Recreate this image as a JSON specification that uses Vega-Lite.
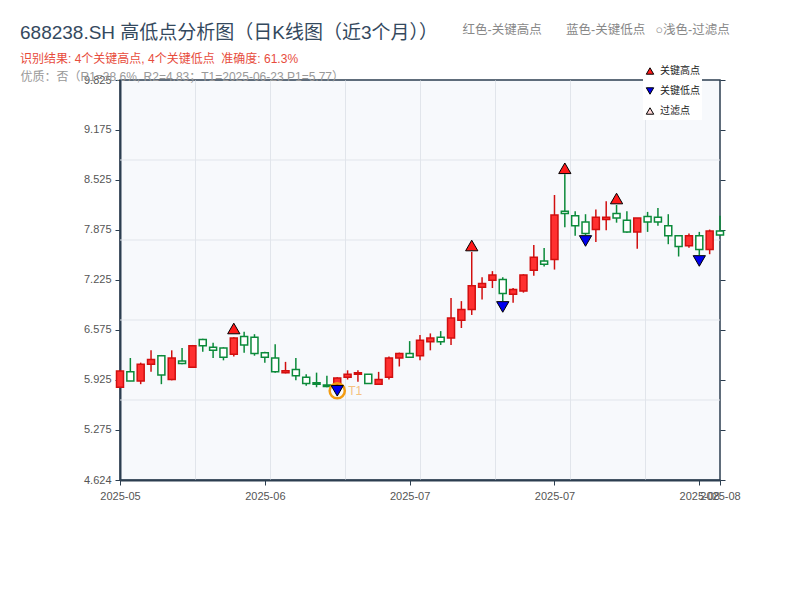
{
  "$schema": "https://vega.github.io/schema/vega-lite/v6.json",
  "width": 600,
  "height": 400,
  "autosize": {"type": "none"},
  "padding": {"left": 120, "top": 80, "right": 80, "bottom": 120},
  "background": "white",
  "title": {
    "text": "688238.SH 高低点分析图（日K线图（近3个月））",
    "subtitle": "识别结果: 4个关键高点, 4个关键低点\u00a0\u00a0准确度: 61.3%",
    "anchor": "start",
    "frame": "group",
    "dx": -100,
    "offset": -42,
    "fontSize": 19,
    "fontWeight": "normal",
    "color": "#34495e",
    "subtitleColor": "#e74c3c",
    "subtitleFontSize": 12,
    "subtitlePadding": 11
  },
  "datasets": {
    "candles": [
      {"date": "2025-05-22", "open": 5.83, "high": 6.05, "low": 5.82, "close": 6.04},
      {"date": "2025-05-23", "open": 6.03, "high": 6.21, "low": 5.91, "close": 5.91},
      {"date": "2025-05-26", "open": 5.91, "high": 6.15, "low": 5.87, "close": 6.13},
      {"date": "2025-05-27", "open": 6.13, "high": 6.31, "low": 6.03, "close": 6.19},
      {"date": "2025-05-28", "open": 6.24, "high": 6.25, "low": 5.87, "close": 5.99},
      {"date": "2025-05-29", "open": 5.93, "high": 6.31, "low": 5.92, "close": 6.21},
      {"date": "2025-05-30", "open": 6.17, "high": 6.34, "low": 6.13, "close": 6.14},
      {"date": "2025-06-03", "open": 6.09, "high": 6.38, "low": 6.08, "close": 6.37},
      {"date": "2025-06-04", "open": 6.45, "high": 6.46, "low": 6.29, "close": 6.37},
      {"date": "2025-06-05", "open": 6.35, "high": 6.41, "low": 6.21, "close": 6.31},
      {"date": "2025-06-06", "open": 6.34, "high": 6.35, "low": 6.18, "close": 6.22},
      {"date": "2025-06-09", "open": 6.26, "high": 6.48, "low": 6.23, "close": 6.47},
      {"date": "2025-06-10", "open": 6.49, "high": 6.55, "low": 6.28, "close": 6.38},
      {"date": "2025-06-11", "open": 6.48, "high": 6.52, "low": 6.24, "close": 6.27},
      {"date": "2025-06-12", "open": 6.28, "high": 6.29, "low": 6.15, "close": 6.22},
      {"date": "2025-06-13", "open": 6.21, "high": 6.39, "low": 6.02, "close": 6.03},
      {"date": "2025-06-16", "open": 6.02, "high": 6.16, "low": 6.01, "close": 6.045},
      {"date": "2025-06-17", "open": 6.06, "high": 6.21, "low": 5.92, "close": 5.98},
      {"date": "2025-06-18", "open": 5.96, "high": 6.0, "low": 5.85, "close": 5.88},
      {"date": "2025-06-19", "open": 5.89, "high": 6.02, "low": 5.83, "close": 5.87},
      {"date": "2025-06-20", "open": 5.86, "high": 5.98, "low": 5.83, "close": 5.84},
      {"date": "2025-06-23", "open": 5.86, "high": 5.96, "low": 5.77, "close": 5.95},
      {"date": "2025-06-24", "open": 5.96, "high": 6.05, "low": 5.93, "close": 6.0},
      {"date": "2025-06-25", "open": 6.0, "high": 6.05, "low": 5.9, "close": 6.02},
      {"date": "2025-06-26", "open": 6.0, "high": 6.0, "low": 5.88, "close": 5.88},
      {"date": "2025-06-27", "open": 5.87, "high": 6.03, "low": 5.87, "close": 5.93},
      {"date": "2025-06-30", "open": 5.96, "high": 6.23, "low": 5.93, "close": 6.21},
      {"date": "2025-07-01", "open": 6.21, "high": 6.28, "low": 6.1, "close": 6.27},
      {"date": "2025-07-02", "open": 6.27, "high": 6.43, "low": 6.21, "close": 6.22},
      {"date": "2025-07-03", "open": 6.24, "high": 6.51, "low": 6.18, "close": 6.44},
      {"date": "2025-07-04", "open": 6.42, "high": 6.53, "low": 6.31, "close": 6.47},
      {"date": "2025-07-07", "open": 6.48, "high": 6.56, "low": 6.38, "close": 6.42},
      {"date": "2025-07-08", "open": 6.47, "high": 6.99, "low": 6.38, "close": 6.73},
      {"date": "2025-07-09", "open": 6.7, "high": 6.95, "low": 6.6, "close": 6.84},
      {"date": "2025-07-10", "open": 6.84, "high": 7.59, "low": 6.77, "close": 7.15},
      {"date": "2025-07-11", "open": 7.13, "high": 7.26, "low": 6.97, "close": 7.18},
      {"date": "2025-07-14", "open": 7.22, "high": 7.34, "low": 7.12, "close": 7.29},
      {"date": "2025-07-15", "open": 7.23, "high": 7.26, "low": 6.95, "close": 7.05},
      {"date": "2025-07-16", "open": 7.04, "high": 7.12, "low": 6.93, "close": 7.1},
      {"date": "2025-07-17", "open": 7.08, "high": 7.3, "low": 7.06, "close": 7.29},
      {"date": "2025-07-18", "open": 7.35, "high": 7.68, "low": 7.28, "close": 7.52},
      {"date": "2025-07-21", "open": 7.47, "high": 7.64, "low": 7.4, "close": 7.43},
      {"date": "2025-07-22", "open": 7.49, "high": 8.33, "low": 7.36, "close": 8.07},
      {"date": "2025-07-23", "open": 8.12, "high": 8.6, "low": 7.91, "close": 8.09},
      {"date": "2025-07-24", "open": 8.06, "high": 8.12, "low": 7.8, "close": 7.93},
      {"date": "2025-07-25", "open": 7.98, "high": 8.08, "low": 7.81, "close": 7.83},
      {"date": "2025-07-28", "open": 7.88, "high": 8.14, "low": 7.72, "close": 8.04},
      {"date": "2025-07-29", "open": 8.01, "high": 8.25, "low": 7.87, "close": 8.04},
      {"date": "2025-07-30", "open": 8.09, "high": 8.2, "low": 7.97, "close": 8.03},
      {"date": "2025-07-31", "open": 8.0, "high": 8.12, "low": 7.84, "close": 7.85},
      {"date": "2025-08-01", "open": 7.85, "high": 8.03, "low": 7.63, "close": 8.03},
      {"date": "2025-08-04", "open": 8.05, "high": 8.11, "low": 7.85, "close": 7.98},
      {"date": "2025-08-05", "open": 8.04, "high": 8.16, "low": 7.93, "close": 7.98},
      {"date": "2025-08-06", "open": 7.93, "high": 8.08, "low": 7.69, "close": 7.8},
      {"date": "2025-08-07", "open": 7.8, "high": 7.8, "low": 7.53, "close": 7.66},
      {"date": "2025-08-08", "open": 7.67, "high": 7.83, "low": 7.645, "close": 7.8},
      {"date": "2025-08-11", "open": 7.8, "high": 7.85, "low": 7.55, "close": 7.62},
      {"date": "2025-08-12", "open": 7.62, "high": 7.88, "low": 7.56, "close": 7.86},
      {"date": "2025-08-13", "open": 7.86, "high": 8.06, "low": 7.8, "close": 7.81}
    ],
    "keypts": [
      {"date": "2025-06-09", "kind": "关键高点", "price": 6.594},
      {"date": "2025-07-10", "kind": "关键高点", "price": 7.673},
      {"date": "2025-07-23", "kind": "关键高点", "price": 8.677},
      {"date": "2025-07-30", "kind": "关键高点", "price": 8.284},
      {"date": "2025-06-23", "kind": "关键低点", "price": 5.784},
      {"date": "2025-07-15", "kind": "关键低点", "price": 6.874},
      {"date": "2025-07-25", "kind": "关键低点", "price": 7.732},
      {"date": "2025-08-11", "kind": "关键低点", "price": 7.472}
    ],
    "t1": [
      {"date": "2025-06-23", "label": "T1", "price": 5.784}
    ]
  },
  "resolve": {"scale": {"x": "independent"}, "axis": {"y": "independent"}},
  "layer": [
    {
      "data": {"values": [{}]},
      "mark": {"type": "rule", "strokeOpacity": 0},
      "encoding": {
        "x": {
          "datum": 0,
          "type": "quantitative",
          "scale": {"domain": [0, 8], "nice": false, "zero": false},
          "axis": {
            "orient": "top",
            "values": [1, 2, 3, 4, 5, 6, 7],
            "grid": true,
            "gridColor": "#e1e5eb",
            "gridWidth": 1,
            "labels": false,
            "ticks": false,
            "domain": false,
            "title": null
          }
        }
      }
    },
    {
      "data": {"values": [{}]},
      "mark": {"type": "rule", "color": "#e1e5eb", "strokeWidth": 1},
      "encoding": {
        "y": {
          "datum": 5.6642,
          "type": "quantitative",
          "scale": {"domain": [4.624, 9.825], "nice": false, "zero": false},
          "axis": {
            "orient": "left",
            "values": [4.624, 5.275, 5.925, 6.575, 7.225, 7.875, 8.525, 9.175, 9.825],
            "format": ".3f",
            "grid": false,
            "tickSize": 5,
            "tickColor": "#2c3e50",
            "labelPadding": 4,
            "labelFontSize": 11,
            "labelColor": "#555",
            "domainColor": "#2c3e50",
            "domainWidth": 2,
            "title": "优质：否（R1=38.6%, R2=4.83；T1=2025-06-23 P1=5.77）",
            "titleAngle": 0,
            "titleX": -100,
            "titleY": 0,
            "titleAlign": "left",
            "titleBaseline": "alphabetic",
            "titleFontSize": 12,
            "titleFontWeight": "normal",
            "titleColor": "#999"
          }
        }
      }
    },
    {
      "data": {"values": [{}]},
      "mark": {"type": "rule", "color": "#e1e5eb", "strokeWidth": 1},
      "encoding": {
        "y": {
          "datum": 6.7044,
          "type": "quantitative",
          "scale": {"domain": [4.624, 9.825], "nice": false, "zero": false},
          "axis": {
            "orient": "right",
            "values": [4.624, 5.275, 5.925, 6.575, 7.225, 7.875, 8.525, 9.175, 9.825],
            "labels": false,
            "ticks": true,
            "tickSize": 5,
            "tickColor": "#2c3e50",
            "domain": false,
            "grid": false,
            "title": null
          }
        }
      }
    },
    {
      "data": {"values": [{}]},
      "mark": {"type": "rule", "color": "#e1e5eb", "strokeWidth": 1},
      "encoding": {
        "y": {"datum": 7.7446, "type": "quantitative", "scale": {"domain": [4.624, 9.825], "nice": false, "zero": false}, "axis": null}
      }
    },
    {
      "data": {"values": [{}]},
      "mark": {"type": "rule", "color": "#e1e5eb", "strokeWidth": 1},
      "encoding": {
        "y": {"datum": 8.7848, "type": "quantitative", "scale": {"domain": [4.624, 9.825], "nice": false, "zero": false}, "axis": null}
      }
    },
    {
      "encoding": {
        "x": {
          "field": "date",
          "type": "ordinal",
          "scale": {"type": "point", "padding": 0},
          "axis": {
            "values": ["2025-05-22", "2025-06-12", "2025-07-02", "2025-07-22", "2025-08-11", "2025-08-13"],
            "labelExpr": "slice(datum.value, 0, 7)",
            "labelAngle": 0,
            "labelOverlap": false,
            "labelBound": false,
            "labelFontSize": 11,
            "labelColor": "#555",
            "labelPadding": 5,
            "tickSize": 5,
            "tickColor": "#2c3e50",
            "domainColor": "#2c3e50",
            "domainWidth": 2,
            "grid": false,
            "title": "红色-关键高点\u00a0\u00a0\u00a0\u00a0\u00a0\u00a0\u00a0蓝色-关键低点\u00a0\u00a0\u00a0○浅色-过滤点",
            "titleX": 342,
            "titleY": -447,
            "titleAlign": "left",
            "titleAnchor": "start",
            "titleBaseline": "alphabetic",
            "titleFontSize": 12.5,
            "titleFontWeight": "normal",
            "titleColor": "#888"
          }
        }
      },
      "layer": [
        {
          "data": {"name": "candles"},
          "mark": {"type": "rule", "strokeWidth": 1.5},
          "encoding": {
            "y": {"field": "low", "type": "quantitative", "scale": {"domain": [4.624, 9.825], "nice": false, "zero": false}, "axis": null},
            "y2": {"field": "high"},
            "color": {"condition": {"test": "datum.close >= datum.open", "value": "#d10f0f"}, "value": "#0b8a3a"}
          }
        },
        {
          "data": {"name": "candles"},
          "mark": {"type": "bar", "size": 7, "strokeWidth": 1.5},
          "encoding": {
            "y": {"field": "open", "type": "quantitative", "scale": {"domain": [4.624, 9.825], "nice": false, "zero": false}, "axis": null},
            "y2": {"field": "close"},
            "fill": {"condition": {"test": "datum.close >= datum.open", "value": "#ff3030"}, "value": "#ffffff"},
            "stroke": {"condition": {"test": "datum.close >= datum.open", "value": "#d10f0f"}, "value": "#0b8a3a"}
          }
        },
        {
          "data": {"name": "t1"},
          "mark": {"type": "point", "shape": "circle", "filled": false, "stroke": "#f39c12", "strokeWidth": 2.5, "size": 230, "opacity": 1},
          "encoding": {
            "y": {"field": "price", "type": "quantitative", "scale": {"domain": [4.624, 9.825], "nice": false, "zero": false}, "axis": null}
          }
        },
        {
          "data": {"name": "keypts"},
          "mark": {"type": "point", "filled": true, "stroke": "black", "strokeWidth": 1, "opacity": 1, "size": 150},
          "encoding": {
            "y": {"field": "price", "type": "quantitative", "scale": {"domain": [4.624, 9.825], "nice": false, "zero": false}, "axis": null},
            "shape": {
              "field": "kind",
              "type": "nominal",
              "scale": {"domain": ["关键高点", "关键低点", "过滤点"], "range": ["triangle-up", "triangle-down", "triangle-up"]},
              "legend": {"title": null, "orient": "none", "legendX": 523, "legendY": -18, "labelFontSize": 10, "labelColor": "#222", "symbolSize": 55, "symbolStrokeColor": "black", "symbolStrokeWidth": 1, "clipHeight": 14, "rowPadding": 6, "labelOffset": 5, "padding": 2, "fillColor": "white"}
            },
            "color": {
              "field": "kind",
              "type": "nominal",
              "scale": {"domain": ["关键高点", "关键低点", "过滤点"], "range": ["#ff1a1a", "#0000ee", "#ffd6d6"]},
              "legend": {"title": null, "orient": "none", "legendX": 523, "legendY": -18, "labelFontSize": 10, "labelColor": "#222", "symbolSize": 55, "symbolStrokeColor": "black", "symbolStrokeWidth": 1, "clipHeight": 14, "rowPadding": 6, "labelOffset": 5, "padding": 2, "fillColor": "white"}
            }
          }
        },
        {
          "data": {"name": "t1"},
          "mark": {"type": "text", "align": "left", "baseline": "middle", "dx": 11, "fontSize": 12, "color": "#f5c27f"},
          "encoding": {
            "y": {"field": "price", "type": "quantitative", "scale": {"domain": [4.624, 9.825], "nice": false, "zero": false}, "axis": null},
            "text": {"field": "label"}
          }
        }
      ]
    }
  ],
  "config": {
    "font": "Liberation Sans, Noto Sans CJK SC",
    "view": {"fill": "#f7f9fc", "stroke": "#2c3e50", "strokeWidth": 1.5},
    "axis": {"tickWidth": 1}
  }
}
